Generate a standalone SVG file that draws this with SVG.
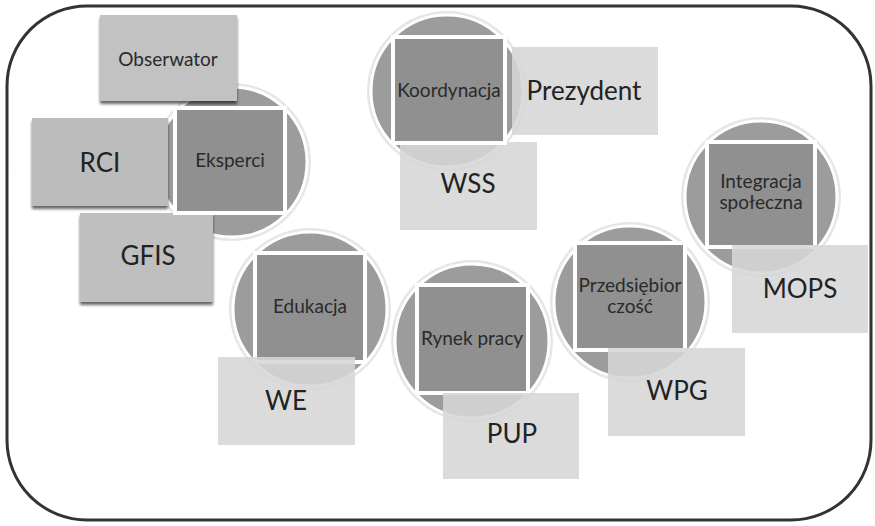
<svg xmlns="http://www.w3.org/2000/svg" width="875" height="526" viewBox="0 0 875 526">
<defs>
<filter id="sh" x="-10%" y="-10%" width="120%" height="130%">
<feGaussianBlur in="SourceAlpha" stdDeviation="1.5"/>
<feOffset dx="0" dy="3" result="b"/>
<feComponentTransfer><feFuncA type="linear" slope="0.6"/></feComponentTransfer>
<feMerge><feMergeNode/><feMergeNode in="SourceGraphic"/></feMerge>
</filter>
</defs>
<style>
.frame{fill:#fff;stroke:#333;stroke-width:3}
.circ{fill:#9c9c9c;stroke:#fff;stroke-width:3}
.glow{fill:none;stroke:#e6e6e6;stroke-width:6}
.sq{fill:#909090;stroke:#fff;stroke-width:4}
.box{fill:#d6d6d6;fill-opacity:0.88}
.boxd{fill:#c2c2c2;filter:url(#sh)}
text{font-family:Lato,"Open Sans","Liberation Sans",sans-serif;fill:#222;text-anchor:middle}
.s{font-size:19px;fill:#2a2a2a}
.b{font-size:26px}
</style>
<rect class="frame" x="7" y="6" width="864" height="514" rx="80" ry="80"/>
<g id="connectors"></g>

<g id="eksperci-cluster">
<circle class="glow" cx="232" cy="162" r="76"/>
<circle class="circ" cx="232" cy="162" r="75"/>
<g id="obserwator"><rect class="boxd" x="100" y="15" width="137" height="86"/><text class="s" x="168" y="66">Obserwator</text></g>
<g id="rci"><rect class="boxd" x="32" y="118" width="136" height="88" style="fill:#bcbcbc"/><text class="b" x="100" y="172">RCI</text></g>
<g id="gfis"><rect class="boxd" x="80" y="213" width="133" height="89" style="fill:#bfbfbf"/><text class="b" x="148" y="265">GFIS</text></g>
<g id="eksperci"><rect class="sq" x="175" y="108" width="110" height="105"/><text class="s" x="230" y="167">Eksperci</text></g>
</g>

<g id="koordynacja-cluster">
<circle class="glow" cx="447" cy="91" r="77"/>
<circle class="circ" cx="447" cy="91" r="76"/>
<g id="prezydent"><rect class="box" x="512" y="47" width="146" height="88"/><text class="b" x="584" y="100">Prezydent</text></g>
<g id="wss"><rect class="box" x="400" y="142" width="137" height="88"/><text class="b" x="468" y="193">WSS</text></g>
<g id="koordynacja"><rect class="sq" x="393" y="37" width="112" height="106"/><text class="s" x="449" y="97">Koordynacja</text></g>
</g>

<g id="integracja-cluster">
<circle class="glow" cx="761" cy="197" r="77"/>
<circle class="circ" cx="761" cy="197" r="76"/>
<g id="integracja"><rect class="sq" x="707" y="142" width="108" height="105"/><text class="s" x="761" y="188">Integracja</text><text class="s" x="761" y="209">społeczna</text></g>
<g id="mops"><rect class="box" x="732" y="245" width="136" height="88"/><text class="b" x="800" y="298">MOPS</text></g>
</g>

<g id="edukacja-cluster">
<circle class="glow" cx="310" cy="309" r="78"/>
<circle class="circ" cx="310" cy="309" r="77"/>
<g id="edukacja"><rect class="sq" x="255" y="253" width="110" height="109"/><text class="s" x="310" y="313">Edukacja</text></g>
<g id="we"><rect class="box" x="218" y="357" width="137" height="88"/><text class="b" x="286" y="410">WE</text></g>
</g>

<g id="rynek-cluster">
<circle class="glow" cx="472" cy="341" r="78"/>
<circle class="circ" cx="472" cy="341" r="77"/>
<g id="rynek"><rect class="sq" x="417" y="285" width="111" height="108"/><text class="s" x="472" y="345">Rynek pracy</text></g>
<g id="pup"><rect class="box" x="443" y="393" width="136" height="86"/><text class="b" x="512" y="443">PUP</text></g>
</g>

<g id="przedsiebiorczosc-cluster">
<circle class="glow" cx="630" cy="302" r="77"/>
<circle class="circ" cx="630" cy="302" r="76"/>
<g id="przedsiebiorczosc"><rect class="sq" x="575" y="243" width="110" height="107"/><text class="s" x="630" y="292">Przedsiębior</text><text class="s" x="630" y="313">czość</text></g>
<g id="wpg"><rect class="box" x="608" y="348" width="137" height="88"/><text class="b" x="677" y="400">WPG</text></g>
</g>
</svg>
